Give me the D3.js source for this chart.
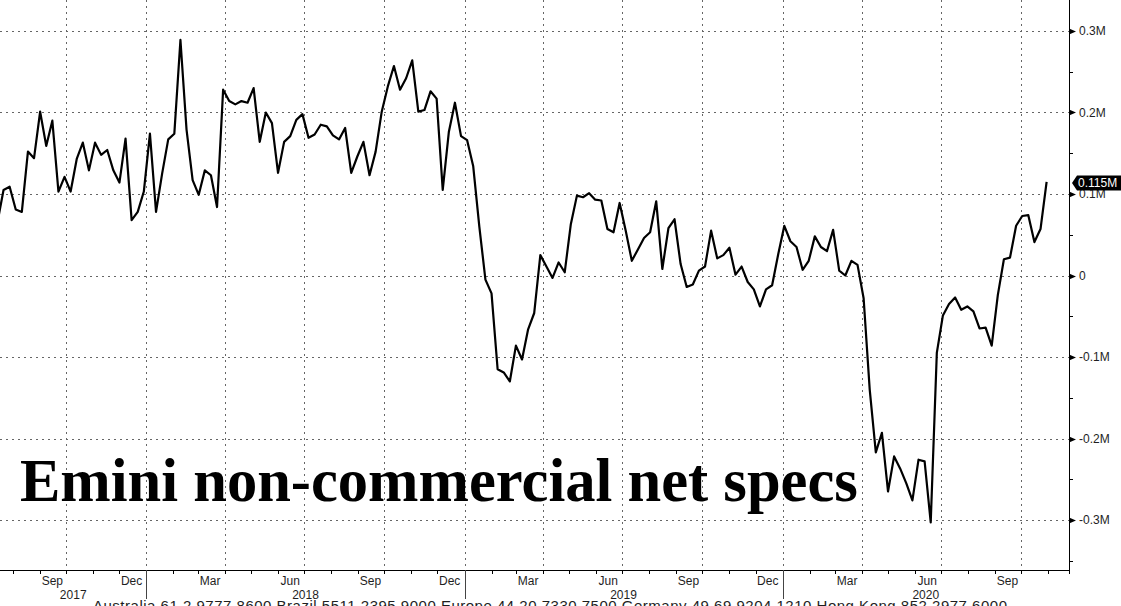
<!DOCTYPE html>
<html><head><meta charset="utf-8">
<script src="https://cdn.jsdelivr.net/npm/d3@7"></script>
<style>html,body{margin:0;padding:0;background:#fff;overflow:hidden}</style>
</head><body>
<svg id="chart" width="1121" height="606"></svg>
<script>
// ---------------- DATA ----------------
// weekly (Friday release) dates, Jul 14 2017 .. Oct 30 2020
const dates = d3.timeFriday.range(new Date(2017, 6, 14), new Date(2020, 9, 31));
// Emini non-commercial net positions, millions of contracts
const netSpecs = [
  0.065, 0.105, 0.109, 0.081, 0.078, 0.152, 0.144, 0.201, 0.159, 0.190,
  0.103, 0.121, 0.103, 0.143, 0.163, 0.129, 0.163, 0.148, 0.154, 0.129,
  0.114, 0.168, 0.068, 0.078, 0.103, 0.174, 0.078, 0.125, 0.167, 0.174,
  0.289, 0.179, 0.117, 0.099, 0.129, 0.123, 0.084, 0.228, 0.214, 0.210,
  0.214, 0.212, 0.230, 0.164, 0.200, 0.187, 0.126, 0.164, 0.171, 0.191,
  0.198, 0.169, 0.173, 0.185, 0.183, 0.172, 0.167, 0.181, 0.126, 0.146,
  0.164, 0.123, 0.152, 0.201, 0.232, 0.257, 0.228, 0.242, 0.264, 0.201,
  0.203, 0.226, 0.217, 0.105, 0.176, 0.212, 0.171, 0.166, 0.134, 0.060,
  -0.005, -0.022, -0.115, -0.119, -0.130, -0.086, -0.103, -0.066, -0.046, 0.025,
  0.011, -0.003, 0.016, 0.004, 0.063, 0.098, 0.096, 0.101, 0.093, 0.092,
  0.057, 0.053, 0.089, 0.055, 0.018, 0.032, 0.046, 0.053, 0.091, 0.008,
  0.058, 0.069, 0.014, -0.014, -0.011, 0.006, 0.011, 0.055, 0.021, 0.025,
  0.034, 0.001, 0.011, -0.008, -0.017, -0.038, -0.017, -0.012, 0.026, 0.061,
  0.042, 0.035, 0.007, 0.018, 0.048, 0.035, 0.030, 0.056, 0.006, 0.000,
  0.018, 0.013, -0.028, -0.140, -0.217, -0.193, -0.265, -0.222, -0.237, -0.255,
  -0.276, -0.226, -0.228, -0.303, -0.095, -0.049, -0.035, -0.027, -0.042, -0.038,
  -0.044, -0.065, -0.064, -0.086, -0.024, 0.020, 0.022, 0.061, 0.073, 0.074,
  0.041, 0.057, 0.115
];
const yTicks = [-0.3, -0.2, -0.1, 0, 0.1, 0.2, 0.3];
const yTickLabels = ["-0.3M", "-0.2M", "-0.1M", "0", "0.1M", "0.2M", "0.3M"];
const yMinorTicks = [-0.35, -0.25, -0.15, -0.05, 0.05, 0.15, 0.25];
const yearLabels = ["2017", "2018", "2019", "2020"];
const lastValueLabel = "0.115M";
const titleText = "Emini non-commercial net specs";
const footerText = "Australia 61 2 9777 8600 Brazil 5511 2395 9000 Europe 44 20 7330 7500 Germany 49 69 9204 1210 Hong Kong 852 2977 6000";

// ---------------- LAYOUT ----------------
const W = 1121, H = 606;
const plotRight = 1069, plotBottom = 570;
const svg = d3.select("#chart");
const n = Math.min(dates.length, netSpecs.length);
const data = d3.range(n).map(i => ({i, date: dates[i], v: netSpecs[i]}));
const dateNums = dates.map(Number);
const WEEK = 7 * 864e5;
function fracIndex(d) {
  const t = +d;
  const i = d3.bisectRight(dateNums, t) - 1;
  if (i < 0) return (t - dateNums[0]) / WEEK;
  if (i >= dateNums.length - 1) return dateNums.length - 1 + (t - dateNums[dateNums.length - 1]) / WEEK;
  return i + (t - dateNums[i]) / (dateNums[i + 1] - dateNums[i]);
}

const x = d3.scaleLinear().domain([0.42, 175.67]).range([0, plotRight]);
const y = d3.scaleLinear().domain([-0.3, 0.3]).range([520, 31]);
const xd = d => x(fracIndex(d));

const font = "'Liberation Sans', Arial, sans-serif";
const textCol = "#1e1e1e";

// gridlines
const quarters = d3.timeMonth.every(3).range(new Date(2017, 6, 1), new Date(2020, 11, 1))
  .filter(d => xd(d) > 0 && xd(d) < plotRight);
const grid = svg.append("g").attr("stroke", "#666").attr("stroke-width", 1).attr("stroke-dasharray", "2,4");
grid.selectAll("line.h").data(yTicks).join("line")
  .attr("x1", 0).attr("x2", plotRight)
  .attr("y1", d => Math.round(y(d)) + 0.5).attr("y2", d => Math.round(y(d)) + 0.5);
grid.selectAll("line.v").data(quarters).join("line")
  .attr("y1", 0).attr("y2", plotBottom)
  .attr("x1", d => Math.round(xd(d)) + 0.5).attr("x2", d => Math.round(xd(d)) + 0.5);

// data line
svg.append("clipPath").attr("id", "clip").append("rect")
  .attr("x", 0).attr("y", 0).attr("width", plotRight).attr("height", plotBottom);
const line = d3.line().x(d => x(d.i)).y(d => y(d.v));
svg.append("path").datum(data)
  .attr("clip-path", "url(#clip)")
  .attr("fill", "none").attr("stroke", "#000").attr("stroke-width", 2.2)
  .attr("stroke-linejoin", "round")
  .attr("d", line);

// axes lines
const ax = svg.append("g").attr("stroke", "#000").attr("stroke-width", 1);
ax.append("line").attr("x1", 0).attr("x2", plotRight + 0.5).attr("y1", plotBottom + 0.5).attr("y2", plotBottom + 0.5);
ax.append("line").attr("x1", plotRight + 0.5).attr("x2", plotRight + 0.5).attr("y1", 0).attr("y2", plotBottom + 4);

// monthly ticks below x-axis
const months = d3.timeMonth.range(new Date(2017, 6, 1), new Date(2020, 11, 1))
  .filter(d => xd(d) > 0 && xd(d) < plotRight);
ax.selectAll("line.m").data(months).join("line")
  .attr("x1", d => Math.round(xd(d)) + 0.5).attr("x2", d => Math.round(xd(d)) + 0.5)
  .attr("y1", plotBottom).attr("y2", plotBottom + 4);
// year separators
const years = d3.timeYear.range(new Date(2017, 6, 1), new Date(2021, 0, 1))
  .filter(d => xd(d) > 0 && xd(d) < plotRight);
ax.selectAll("line.yr").data(years).join("line")
  .attr("stroke", "#444")
  .attr("x1", d => Math.round(xd(d)) + 0.5).attr("x2", d => Math.round(xd(d)) + 0.5)
  .attr("y1", plotBottom).attr("y2", plotBottom + 29);

// month labels (month before each quarter line, centered mid-month)
const fmtMonth = d3.timeFormat("%b");
const monthLabelDates = quarters.map(q => new Date(q.getFullYear(), q.getMonth() - 1, 15));
svg.append("g").selectAll("text").data(monthLabelDates).join("text")
  .attr("x", d => xd(d)).attr("y", 585)
  .attr("text-anchor", "middle").attr("font-family", font).attr("font-size", 12)
  .attr("fill", textCol).text(d => fmtMonth(d));

// footer (cut off at the bottom edge) - drawn under the year labels
svg.append("text").attr("x", 93).attr("y", 611)
  .attr("font-family", font).attr("font-size", 15).attr("fill", textCol)
  .attr("textLength", 914).attr("lengthAdjust", "spacing")
  .text(footerText);

// year labels centered in visible span of each year
const yearSpans = yearLabels.map(yl => {
  const yy = +yl;
  const a = Math.max(0, xd(new Date(yy, 0, 1)));
  const b = Math.min(plotRight, xd(new Date(yy + 1, 0, 1)));
  return {label: yl, cx: (a + b) / 2};
});
svg.append("g").selectAll("text").data(yearSpans).join("text")
  .attr("x", d => d.cx).attr("y", 599)
  .attr("text-anchor", "middle").attr("font-family", font).attr("font-size", 12)
  .attr("fill", textCol).text(d => d.label);

// right axis: minor ticks, arrow ticks, labels
ax.selectAll("line.mn").data(yMinorTicks).join("line")
  .attr("x1", plotRight).attr("x2", plotRight + 4)
  .attr("y1", d => Math.round(y(d)) + 0.5).attr("y2", d => Math.round(y(d)) + 0.5);
svg.append("g").selectAll("path").data(yTicks).join("path")
  .attr("fill", "#000")
  .attr("d", d => { const yy = Math.round(y(d)) + 0.5; return `M${plotRight},${yy - 3}L${plotRight + 7},${yy}L${plotRight},${yy + 3}Z`; });
svg.append("g").selectAll("text").data(yTicks).join("text")
  .attr("x", plotRight + 10).attr("y", d => y(d)).attr("dy", "0.36em")
  .attr("font-family", font).attr("font-size", 12).attr("fill", textCol)
  .text((d, i) => yTickLabels[i]);

// last value marker
const last = data[data.length - 1];
const ly = y(last.v) + 1.3;
svg.append("path").attr("fill", "#000")
  .attr("d", `M${plotRight + 3},${ly}L${plotRight + 8},${ly - 7.5}L${W},${ly - 7.5}L${W},${ly + 7.5}L${plotRight + 8},${ly + 7.5}Z`);
svg.append("text").attr("x", plotRight + 9).attr("y", ly).attr("dy", "0.36em")
  .attr("font-family", font).attr("font-size", 12).attr("fill", "#fff").text(lastValueLabel);

// title
const title = svg.append("text").attr("x", 20).attr("y", 501)
  .attr("font-family", "'Liberation Serif', 'Times New Roman', serif").attr("font-weight", "bold")
  .attr("font-size", 54).attr("fill", "#000").text(titleText);
const tw = title.node().getComputedTextLength();
title.attr("font-size", 54 * 838 / tw);
</script>
</body></html>
